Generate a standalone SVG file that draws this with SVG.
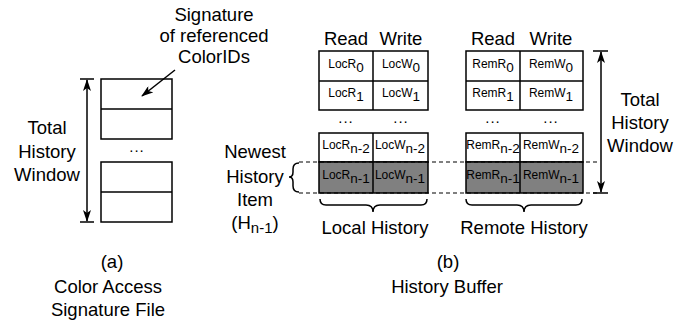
<svg xmlns="http://www.w3.org/2000/svg" width="689" height="325" viewBox="0 0 689 325">
<style>
text{font-family:"Liberation Sans",Arial,sans-serif;fill:#000}
.lbl{font-size:18.5px;text-anchor:middle}
.dots{font-size:15px;text-anchor:middle;letter-spacing:1px}
.cell{font-size:12px;text-anchor:middle}
.sub{font-size:13.5px}
.box{fill:#fff;stroke:#000;stroke-width:1.5}
.dark{fill:#808080;stroke:#000;stroke-width:1.5}
.ln{stroke:#000;stroke-width:1.5;fill:none}
.dash{stroke:#000;stroke-width:1.2;stroke-dasharray:4,3;fill:none}
</style>
<defs>
<marker id="ah" viewBox="0 0 12 8" refX="11" refY="4" markerWidth="12" markerHeight="8" markerUnits="userSpaceOnUse" orient="auto-start-reverse">
<path d="M0,0 L12,4 L0,8 L3,4 Z" fill="#000"/>
</marker>
</defs>
<rect width="689" height="325" fill="#fff"/>

<g id="sigfile">
<rect class="box" x="101" y="79" width="71" height="60"/>
<line class="ln" x1="101" y1="109" x2="172" y2="109"/>
<text class="dots" x="137" y="152">...</text>
<rect class="box" x="101" y="162" width="71" height="60"/>
<line class="ln" x1="101" y1="192" x2="172" y2="192"/>
</g>

<g id="sig-label">
<text class="lbl" x="214" y="21">Signature</text>
<text class="lbl" x="214" y="42">of referenced</text>
<text class="lbl" x="214" y="63">ColorIDs</text>
</g>

<g id="twin-a">
<text class="lbl" x="47" y="134">Total</text>
<text class="lbl" x="47" y="158">History</text>
<text class="lbl" x="47" y="181">Window</text>
</g>

<g id="cap-a">
<text class="lbl" x="112" y="268">(a)</text>
<text class="lbl" x="108" y="293">Color Access</text>
<text class="lbl" x="108" y="316">Signature File</text>
</g>

<g id="local">
<text class="lbl" x="346" y="45">Read</text>
<text class="lbl" x="401" y="45">Write</text>
<rect class="box" x="319" y="51" width="109" height="59"/>
<line class="ln" x1="319" y1="81" x2="428" y2="81"/>
<line class="ln" x1="373" y1="51" x2="373" y2="110"/>
<text class="cell" x="346" y="68">LocR<tspan class="sub" dy="4">0</tspan></text>
<text class="cell" x="401" y="68">LocW<tspan class="sub" dy="4">0</tspan></text>
<text class="cell" x="346" y="97">LocR<tspan class="sub" dy="4">1</tspan></text>
<text class="cell" x="401" y="97">LocW<tspan class="sub" dy="4">1</tspan></text>
<text class="dots" x="346" y="123">...</text>
<text class="dots" x="401" y="123">...</text>
<rect class="box" x="319" y="133" width="109" height="29"/>
<rect class="dark" x="319" y="162" width="109" height="31"/>
<line class="ln" x1="373" y1="133" x2="373" y2="193"/>
<text class="cell" x="346" y="149">LocR<tspan class="sub" dy="4">n-2</tspan></text>
<text class="cell" x="400" y="149">LocW<tspan class="sub" dy="4">n-2</tspan></text>
<text class="cell" x="346" y="179">LocR<tspan class="sub" dy="4">n-1</tspan></text>
<text class="cell" x="400" y="179">LocW<tspan class="sub" dy="4">n-1</tspan></text>
<path class="ln" d="M320,199 Q320,205 326,205 L366,205 Q373,205 373,212 Q373,205 380,205 L421,205 Q427,205 427,199"/>
<text class="lbl" x="375" y="234">Local History</text>
</g>

<g id="remote">
<text class="lbl" x="493" y="45">Read</text>
<text class="lbl" x="551" y="45">Write</text>
<rect class="box" x="466" y="51" width="117" height="59"/>
<line class="ln" x1="466" y1="81" x2="583" y2="81"/>
<line class="ln" x1="520" y1="51" x2="520" y2="110"/>
<text class="cell" x="493" y="68">RemR<tspan class="sub" dy="4">0</tspan></text>
<text class="cell" x="551" y="68">RemW<tspan class="sub" dy="4">0</tspan></text>
<text class="cell" x="493" y="97">RemR<tspan class="sub" dy="4">1</tspan></text>
<text class="cell" x="551" y="97">RemW<tspan class="sub" dy="4">1</tspan></text>
<text class="dots" x="493" y="123">...</text>
<text class="dots" x="551" y="123">...</text>
<rect class="box" x="466" y="133" width="117" height="29"/>
<rect class="dark" x="466" y="162" width="117" height="31"/>
<line class="ln" x1="520" y1="133" x2="520" y2="193"/>
<text class="cell" x="493" y="149">RemR<tspan class="sub" dy="4">n-2</tspan></text>
<text class="cell" x="551" y="149">RemW<tspan class="sub" dy="4">n-2</tspan></text>
<text class="cell" x="493" y="179">RemR<tspan class="sub" dy="4">n-1</tspan></text>
<text class="cell" x="551" y="179">RemW<tspan class="sub" dy="4">n-1</tspan></text>
<path class="ln" d="M466,199 Q466,205 472,205 L517,205 Q524,205 524,212 Q524,205 531,205 L576,205 Q582,205 582,199"/>
<text class="lbl" x="524" y="234">Remote History</text>
</g>

<g id="newest">
<text class="lbl" x="255" y="158">Newest</text>
<text class="lbl" x="255" y="183">History</text>
<text class="lbl" x="255" y="206">Item</text>
<text class="lbl" x="255" y="229">(H<tspan style="font-size:15px" dy="4">n-1</tspan><tspan dy="-4">)</tspan></text>
</g>

<g id="twin-b">
<text class="lbl" x="640" y="106">Total</text>
<text class="lbl" x="640" y="129">History</text>
<text class="lbl" x="640" y="152">Window</text>
</g>

<g id="cap-b">
<text class="lbl" x="448" y="268">(b)</text>
<text class="lbl" x="447" y="293">History Buffer</text>
</g>

<g id="connectors">
<line class="ln" x1="80" y1="79" x2="94" y2="79"/>
<line class="ln" x1="80" y1="222" x2="94" y2="222"/>
<line class="ln" x1="87" y1="80" x2="87" y2="221" marker-start="url(#ah)" marker-end="url(#ah)"/>
<line class="ln" x1="175" y1="70" x2="142" y2="96" marker-end="url(#ah)"/>
<line class="ln" x1="593" y1="51" x2="608" y2="51"/>
<line class="ln" x1="593" y1="193" x2="608" y2="193"/>
<line class="ln" x1="601" y1="52" x2="601" y2="192" marker-start="url(#ah)" marker-end="url(#ah)"/>
<line class="dash" x1="299" y1="162" x2="597" y2="162"/>
<line class="dash" x1="299" y1="193" x2="597" y2="193"/>
<path class="ln" d="M299,163 Q293,163 293,169 L293,172 Q293,177 289,177 Q293,177 293,182 L293,186 Q293,192 299,192"/>
</g>
</svg>
